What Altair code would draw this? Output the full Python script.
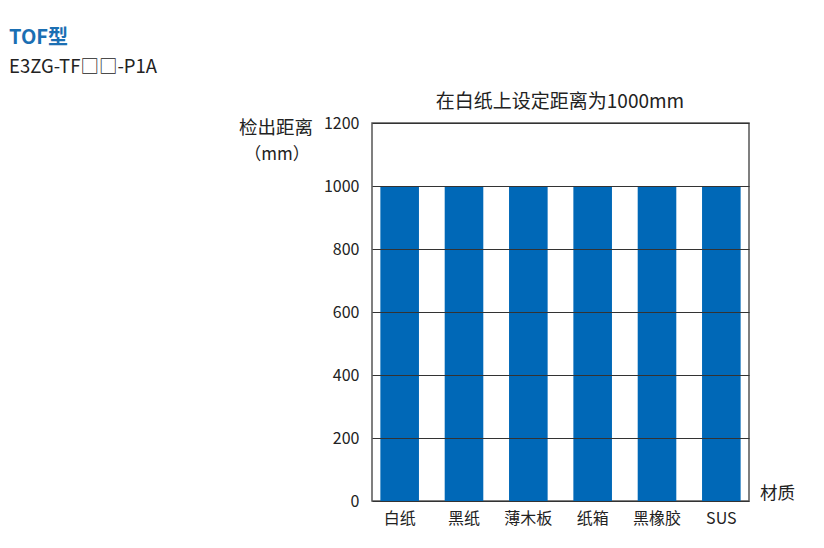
import altair as alt
import pandas as pd

categories = ["白纸", "黑纸", "薄木板", "纸箱", "黑橡胶", "SUS"]
distances = [1000, 1000, 1000, 1000, 1000, 1000]
y_ticks = [0, 200, 400, 600, 800, 1000, 1200]

df = pd.DataFrame({"材质": categories, "距离": distances})
one = pd.DataFrame({"k": [0]})

FONT = "Noto Sans CJK SC"
BLUE = "#0068B7"

bars = alt.Chart(df).mark_bar(color=BLUE).encode(
    x=alt.X("材质:N", sort=categories,
            scale=alt.Scale(paddingInner=0.4, paddingOuter=0.13),
            axis=alt.Axis(title=None, labelAngle=0, labelFontSize=16, labelFont=FONT,
                          labelColor="#222", labelPadding=9, ticks=False,
                          domain=False, grid=False)),
    y=alt.Y("距离:Q", scale=alt.Scale(domain=[0, 1200], nice=False),
            axis=alt.Axis(title=None, values=y_ticks, format="d", labelFontSize=16,
                          labelFont=FONT, labelColor="#222", labelPadding=13,
                          ticks=False, domain=False,
                          grid=True, gridColor="#333", gridWidth=1.2, gridOpacity=1,
                          zindex=1)),
)

def txt(text, x, y, size, align="left", color="#222", weight="normal"):
    return alt.Chart(one).mark_text(
        text=text, align=align, baseline="middle", fontSize=size, font=FONT,
        color=color, fontWeight=weight
    ).encode(x=alt.value(x), y=alt.value(y))

layers = [
    bars,
    txt("在白纸上设定距离为1000mm", 188, -21, 19, align="center"),
    txt("检出距离", -96, 5, 18.5, align="center"),
    txt("（mm）", -95, 32, 17, align="center"),
    txt("材质", 388, 371, 17.5),
    txt("TOF型", -363, -85, 20, color="#1B6FB3", weight="bold"),
    txt("E3ZG-TF□□-P1A", -363, -56, 18.5),
]

chart = alt.layer(*layers).properties(
    width=377, height=378,
    autosize=alt.AutoSizeParams(type="none"),
    padding={"left": 364, "top": 115, "right": 60, "bottom": 40},
).configure_view(stroke="#555", strokeWidth=1.5)

chart.save("out.html", embed_options={"renderer": "svg", "actions": False})
